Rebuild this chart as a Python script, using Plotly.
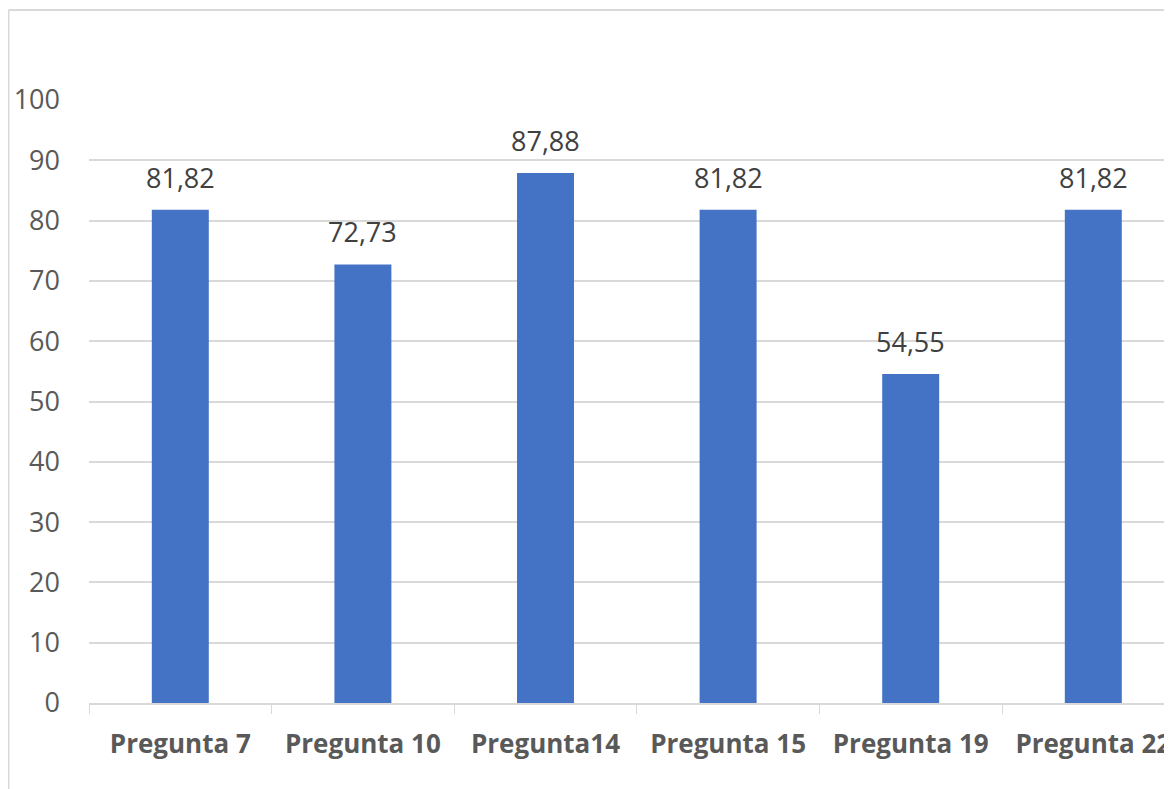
import plotly.graph_objects as go

categories = ["Pregunta 7", "Pregunta 10", "Pregunta14", "Pregunta 15", "Pregunta 19", "Pregunta 22"]
values = [81.82, 72.73, 87.88, 81.82, 54.55, 81.82]
labels = ["81,82", "72,73", "87,88", "81,82", "54,55", "81,82"]
y_ticks = [0, 10, 20, 30, 40, 50, 60, 70, 80, 90, 100]

OFF = 8  # page body margin
W, H = 1172 - OFF, 789 - OFF
L, T = 89 - OFF, 100 - OFF
B = H - (703 - OFF)
plot_w = W - L
plot_h = H - T - B
cat_w = 182.6

fig = go.Figure()
fig.add_trace(go.Bar(
    x=categories, y=values,
    marker=dict(color="#4472C4", line=dict(width=0)),
    width=0.312,
    hoverinfo="skip",
))

for c, v, t in zip(categories, values, labels):
    fig.add_annotation(x=c, y=v, text=t, showarrow=False, yanchor="bottom", yshift=12,
                       font=dict(family="Open Sans", size=27, color="#404040"))

grey = "#D9D9D9"
fig.update_layout(
    width=W, height=H,
    margin=dict(l=L, r=0, t=T, b=B, pad=0),
    paper_bgcolor="white", plot_bgcolor="white",
    showlegend=False,
    font=dict(family="Open Sans", color="#595959"),
    xaxis=dict(
        type="category",
        range=[-0.5, -0.5 + plot_w / cat_w],
        tickson="boundaries", ticks="outside", ticklen=9, tickcolor=grey, tickwidth=1,
        showgrid=False, showline=True, linecolor=grey, linewidth=2,
        tickfont=dict(family="Open Sans", size=26, color="#595959", weight="bold"),
        ticklabelstandoff=17,
    ),
    yaxis=dict(
        range=[0, 100], tickvals=y_ticks,
        showgrid=True, gridcolor=grey, gridwidth=1.5,
        zeroline=False, showline=False, ticks="",
        tickfont=dict(family="Open Sans", size=27, color="#595959"),
        ticklabelstandoff=28,
    ),
)

# outer chart border (left and top edges visible)
x_left = (0.5 - L) / plot_w
y_top = (H - B - (10 - OFF)) / plot_h
fig.add_shape(type="line", xref="paper", yref="paper", x0=x_left, x1=x_left, y0=-1, y1=y_top,
              line=dict(color=grey, width=2))
fig.add_shape(type="line", xref="paper", yref="paper", x0=x_left, x1=1.1, y0=y_top, y1=y_top,
              line=dict(color=grey, width=2))

fig.write_html("out.html")
